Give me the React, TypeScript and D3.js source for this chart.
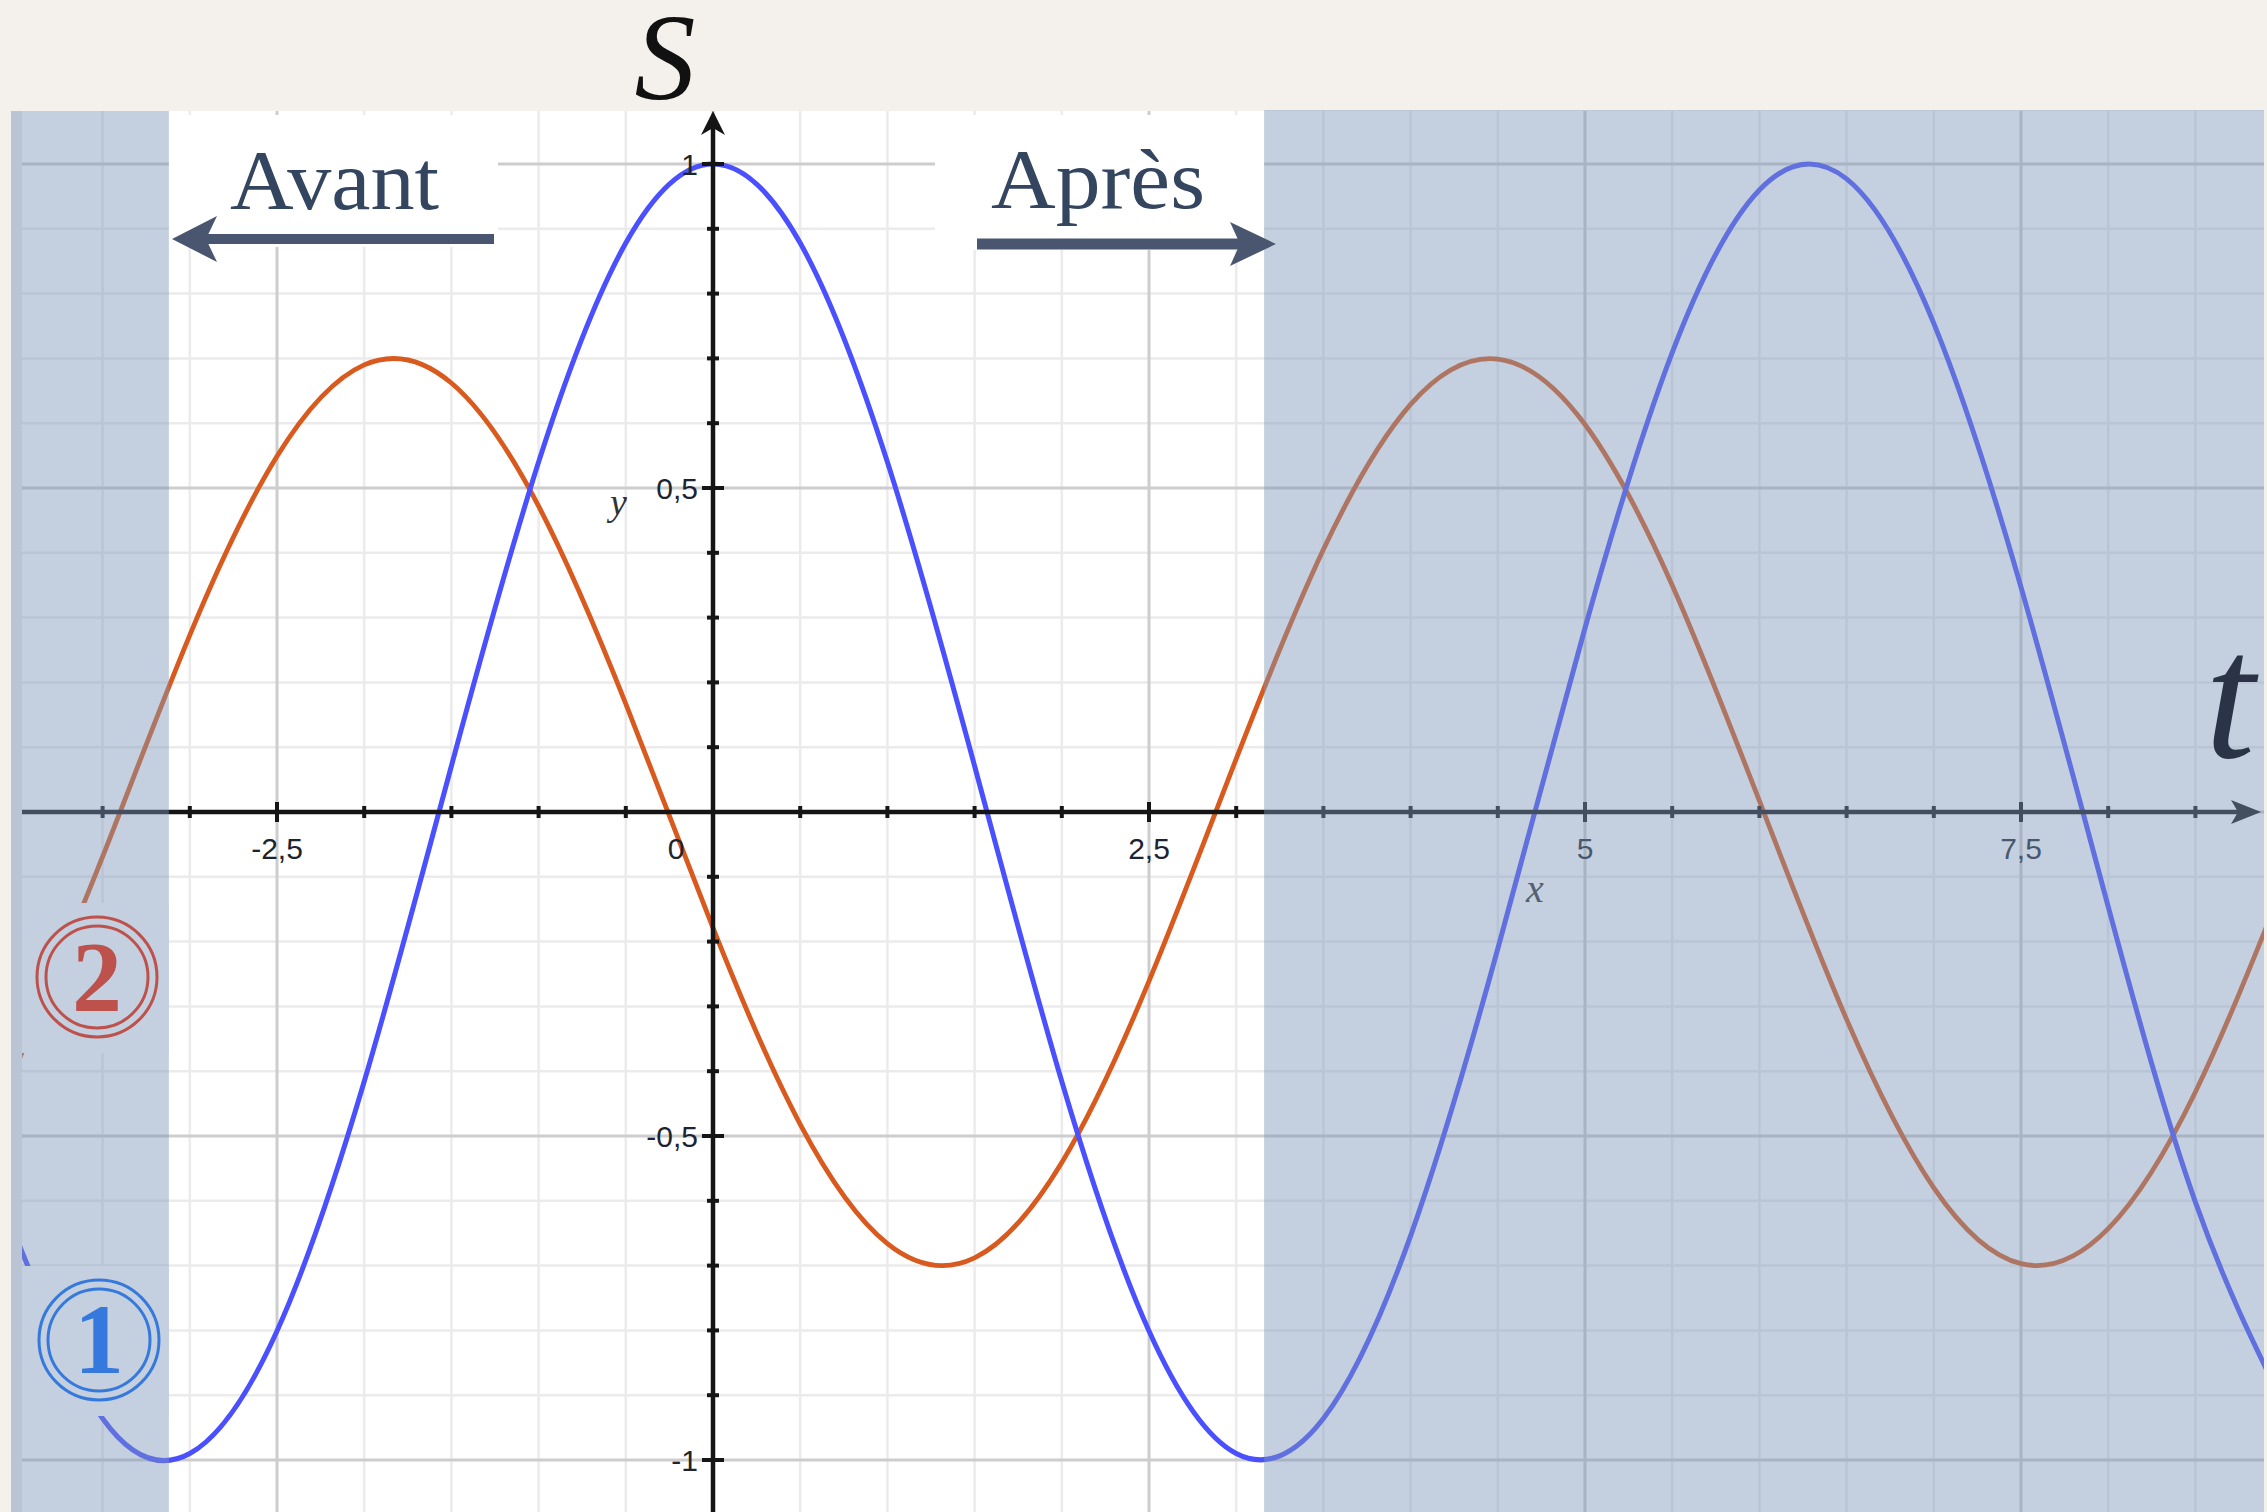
import React from "react";
import * as d3 from "d3";

// ---- data ----
const T_VALUES = [-4, -3.5, -3, -2.5, -2, -1.5, -1, -0.5, 0, 0.5, 1, 1.5, 2, 2.5, 3, 3.5, 4, 4.5, 5, 5.5, 6, 6.5, 7, 7.5, 8, 8.5, 9];
const SIGNAL_1 = [-0.654, -0.936, -0.99, -0.801, -0.416, 0.071, 0.54, 0.878, 1.0, 0.878, 0.54, 0.071, -0.416, -0.801, -0.99, -0.936, -0.654, -0.211, 0.284, 0.709, 0.96, 0.977, 0.754, 0.347, -0.146, -0.602, -0.911];
const SIGNAL_2 = [-0.395, -0.069, 0.273, 0.549, 0.69, 0.662, 0.472, 0.167, -0.179, -0.482, -0.666, -0.688, -0.541, -0.261, 0.082, 0.405, 0.629, 0.699, 0.598, 0.35, 0.017, -0.32, -0.58, -0.697, -0.643, -0.432, -0.115];
const X_TICKS = [-2.5, 0, 2.5, 5, 7.5];
const X_TICK_TEXT = ["-2,5", "0", "2,5", "5", "7,5"];
const Y_TICKS = [1, 0.5, -0.5, -1];
const Y_TICK_TEXT = ["1", "0,5", "-0,5", "-1"];
const SHADED_BEFORE = [-4.2, -3.12]; // "Avant" shaded time range
const SHADED_AFTER = [3.16, 8.95]; // "Après" shaded time range

const W = 2267;
const H = 1512;
const PLOT = { left: 22, right: 2264, top: 111, bottom: 1512 };

const x = d3.scaleLinear().domain([-4, 9]).range([713 - 4 * 174.4, 713 + 9 * 174.4]);
const y = d3.scaleLinear().domain([-1, 1]).range([1460, 164]);

const OVERLAY = "#7c97b8";
const SHADE_SOLID = "#c4d0df";
const BLUE = "#4b50ff";
const ORANGE = "#d95a1e";
const SERIF = "'Liberation Serif', 'DejaVu Serif', serif";
const SANS = "'Liberation Sans', Arial, sans-serif";

export default function App() {
  const line = d3
    .line<number>()
    .x((_, i) => x(T_VALUES[i]))
    .y((d) => y(d))
    .curve(d3.curveNatural);

  const vLines = d3.range(-4, 9.001, 0.5);
  const hLines = d3.range(-11, 12, 1).map((k) => k / 10);
  const x0 = x(0);
  const y0 = y(0);
  const isMajorX = (v: number) => Math.abs(v / 2.5 - Math.round(v / 2.5)) < 1e-6;
  const isMajorY = (v: number) => Math.abs(v / 0.5 - Math.round(v / 0.5)) < 1e-6;

  const leftShadeX0 = PLOT.left;
  const leftShadeX1 = x(SHADED_BEFORE[1]);
  const rightShadeX0 = x(SHADED_AFTER[0]);
  const rightShadeX1 = PLOT.right;

  return (
    <svg
      width={W}
      height={H}
      viewBox={`0 0 ${W} ${H}`}
      style={{ position: "absolute", left: 0, top: 0, display: "block" }}
    >
      <defs>
        <clipPath id="plotClip">
          <rect x={PLOT.left} y={PLOT.top} width={PLOT.right - PLOT.left} height={PLOT.bottom - PLOT.top} />
        </clipPath>
      </defs>
      {/* paper background */}
      <rect x={0} y={0} width={W} height={H} fill="#f4f1ec" />
      {/* plot area */}
      <rect x={PLOT.left} y={PLOT.top} width={PLOT.right - PLOT.left} height={PLOT.bottom - PLOT.top} fill="#ffffff" />

      <g clipPath="url(#plotClip)">
        {/* grid */}
        {vLines.filter((v) => !isMajorX(v)).map((v) => (
          <line key={"v" + v} x1={x(v)} x2={x(v)} y1={PLOT.top} y2={PLOT.bottom} stroke="#ebebeb" strokeWidth={2.5} />
        ))}
        {hLines.filter((v) => !isMajorY(v)).map((v) => (
          <line key={"h" + v} x1={PLOT.left} x2={PLOT.right} y1={y(v)} y2={y(v)} stroke="#ebebeb" strokeWidth={2.5} />
        ))}
        {vLines.filter((v) => isMajorX(v)).map((v) => (
          <line key={"V" + v} x1={x(v)} x2={x(v)} y1={PLOT.top} y2={PLOT.bottom} stroke="#cdcdcd" strokeWidth={3} />
        ))}
        {hLines.filter((v) => isMajorY(v)).map((v) => (
          <line key={"H" + v} x1={PLOT.left} x2={PLOT.right} y1={y(v)} y2={y(v)} stroke="#cdcdcd" strokeWidth={3} />
        ))}

        {/* white label boxes */}
        <rect x={leftShadeX1} y={115} width={498 - leftShadeX1} height={132} fill="#ffffff" />
        <rect x={935} y={115} width={rightShadeX0 - 935} height={135} fill="#ffffff" />

        {/* curves */}
        <path d={line(SIGNAL_2) || ""} fill="none" stroke={ORANGE} strokeWidth={4.8} />
        <path d={line(SIGNAL_1) || ""} fill="none" stroke={BLUE} strokeWidth={5} />

        {/* axes */}
        <line x1={PLOT.left} x2={2240} y1={y0} y2={y0} stroke="#151515" strokeWidth={4.5} />
        <line x1={x0} x2={x0} y1={PLOT.bottom} y2={125} stroke="#151515" strokeWidth={4.5} />
        <path d={`M2261,${y0} L2231,${y0 - 12} L2238,${y0} L2231,${y0 + 12} Z`} fill="#151515" />
        <path d={`M${x0},111 L${x0 - 12},135 L${x0},128 L${x0 + 12},135 Z`} fill="#151515" />

        {/* x ticks */}
        {vLines.map((v) => {
          const len = isMajorX(v) ? 10 : 6;
          return <line key={"xt" + v} x1={x(v)} x2={x(v)} y1={y0 - len} y2={y0 + len} stroke="#151515" strokeWidth={4} />;
        })}
        {/* y ticks */}
        {hLines.map((v) => {
          const len = isMajorY(v) ? 11 : 6;
          return <line key={"yt" + v} x1={x0 - len} x2={x0 + len} y1={y(v)} y2={y(v)} stroke="#151515" strokeWidth={4} />;
        })}

        {/* tick labels */}
        {X_TICKS.map((v, i) => (
          <text
            key={"xl" + v}
            x={v === 0 ? x0 - 37 : x(v)}
            y={y0 + 47}
            textAnchor="middle"
            fontFamily={SANS}
            fontSize={30}
            fill="#1d2430"
          >
            {X_TICK_TEXT[i]}
          </text>
        ))}
        {Y_TICKS.map((v, i) => (
          <text
            key={"yl" + v}
            x={x0 - 15}
            y={y(v) + 11}
            textAnchor="end"
            fontFamily={SANS}
            fontSize={30}
            fill="#1d2430"
          >
            {Y_TICK_TEXT[i]}
          </text>
        ))}
        <text x={610} y={515} fontFamily={SERIF} fontStyle="italic" fontSize={38} fill="#333">y</text>
        <text x={1526} y={902} fontFamily={SERIF} fontStyle="italic" fontSize={40} fill="#333">x</text>
      </g>

      {/* shaded "before" and "after" regions */}
      <rect x={leftShadeX0} y={PLOT.top} width={leftShadeX1 - leftShadeX0} height={PLOT.bottom - PLOT.top} fill={OVERLAY} fillOpacity={0.45} />
      <rect x={rightShadeX0} y={PLOT.top - 1} width={rightShadeX1 - rightShadeX0} height={PLOT.bottom - PLOT.top + 1} fill={OVERLAY} fillOpacity={0.45} />
      <rect x={11} y={PLOT.top} width={PLOT.left - 11} height={PLOT.bottom - PLOT.top} fill="#b9c5d5" />

      {/* circled curve numbers */}
      <rect x={PLOT.left} y={903} width={leftShadeX1 - PLOT.left} height={150} fill={SHADE_SOLID} />
      <rect x={PLOT.left} y={1266} width={leftShadeX1 - PLOT.left} height={150} fill={SHADE_SOLID} />
      <g fill="none" stroke="#bd524c" strokeWidth={3}>
        <circle cx={97} cy={977} r={60} />
        <circle cx={97} cy={977} r={51} />
      </g>
      <text x={97} y={1010} textAnchor="middle" fontFamily={SERIF} fontWeight="bold" fontSize={100} fill="#bd524c">2</text>
      <g fill="none" stroke="#3579dc" strokeWidth={3}>
        <circle cx={99} cy={1340} r={60} />
        <circle cx={99} cy={1340} r={51} />
      </g>
      <text x={99} y={1373} textAnchor="middle" fontFamily={SERIF} fontWeight="bold" fontSize={100} fill="#3579dc">1</text>

      {/* axis names */}
      <text x={665} y={99} textAnchor="middle" fontFamily={SERIF} fontStyle="italic" fontSize={122} fill="#111">S</text>
      <text x={2230} y={757} textAnchor="middle" fontFamily={SERIF} fontStyle="italic" fontSize={180} fill="#2b3446">t</text>

      {/* Avant / Après annotations */}
      <text x={230} y={209} fontFamily={SERIF} fontSize={84} fill="#34455f" textLength={209} lengthAdjust="spacingAndGlyphs">Avant</text>
      <rect x={206} y={234} width={494 - 206} height={10} fill="#4a5670" />
      <path d="M172,239 L217,216 L206,239 L217,262 Z" fill="#4a5670" />

      <text x={991} y={208} fontFamily={SERIF} fontSize={84} fill="#34455f" textLength={214} lengthAdjust="spacingAndGlyphs">Après</text>
      <rect x={977} y={238.5} width={1241 - 977} height={11} fill="#4a5670" />
      <path d="M1276,244 L1230,222 L1240,244 L1230,266 Z" fill="#4a5670" />
    </svg>
  );
}
